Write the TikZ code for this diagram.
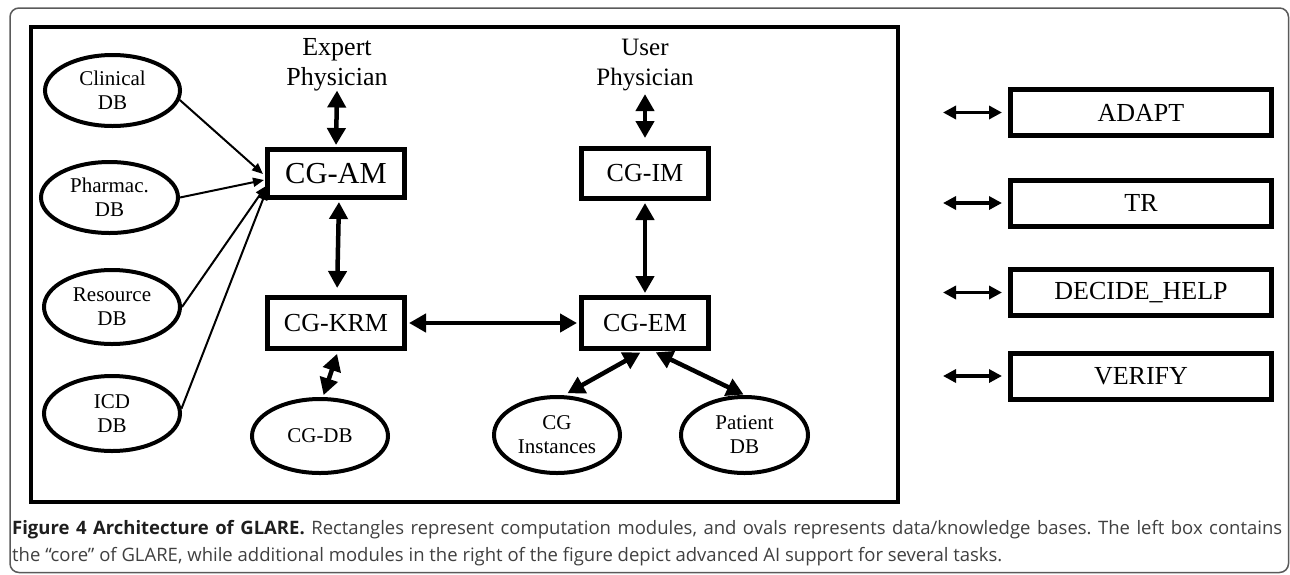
\documentclass[tikz,border=0pt]{standalone}
\usepackage{fontspec}
\setmainfont{Liberation Serif}
\newfontfamily\capfont{Open Sans}
\usetikzlibrary{shapes.geometric,arrows.meta}
\definecolor{capgray}{RGB}{64,64,64}
\definecolor{capdark}{RGB}{30,30,30}
\definecolor{framegray}{RGB}{90,90,90}
\frenchspacing
\begin{document}
\begin{tikzpicture}[x=1pt,y=-1pt,
  box/.style={draw, line width=5pt, rectangle, inner sep=0pt, font=\fontsize{26}{30}\selectfont},
  db/.style={draw, ellipse, line width=4pt, inner sep=0pt, align=center, font=\fontsize{21}{24}\selectfont},
  big/.style={line width=4.5pt, {Triangle[width=18pt,length=17pt]}-{Triangle[width=18pt,length=17pt]}},
  mid/.style={line width=3.5pt, {Triangle[width=13pt,length=13pt]}-{Triangle[width=13pt,length=13pt]}},
  thinarr/.style={line width=2pt, -{Triangle[width=9pt,length=11pt]}},
  person/.style={align=center, inner sep=0pt, font=\fontsize{26}{30}\selectfont},
  captext/.style={anchor=base west, inner sep=0pt, font=\capfont\fontsize{18.5}{22}\selectfont, text=capgray},
  ]
\useasboundingbox (0,0) rectangle (1290,574);
% outer frame
\draw[framegray, line width=1.5pt, rounded corners=9pt] (10,8) rectangle (1288.5,572.5);
% core box
\draw[line width=4pt] (31,27) rectangle (898,502);

% data bases
\node[db, minimum width=135pt, minimum height=71pt] (clin) at (112.5,90.5) {Clinical\\DB};
\node[db, minimum width=137pt, minimum height=71pt] (pharm) at (109.5,197.5) {Pharmac.\\DB};
\node[db, minimum width=136pt, minimum height=74pt] (res) at (112,307) {Resource\\DB};
\node[db, minimum width=136pt, minimum height=75pt] (icd) at (112,413.5) {ICD\\DB};
\node[db, minimum width=136pt, minimum height=74pt] (cgdb) at (320,436) {CG-DB};
\node[db, minimum width=126pt, minimum height=76pt] (cgi) at (557,435) {CG\\Instances};
\node[db, minimum width=127pt, minimum height=76pt] (pat) at (744.5,435) {Patient\\DB};

% modules
\node[box, minimum width=137pt, minimum height=48pt, font=\fontsize{30.5}{34}\selectfont] (cgam) at (336,173.5) {CG-AM};
\node[box, minimum width=137pt, minimum height=51pt] (krm) at (336,323) {CG-KRM};
\node[box, minimum width=127pt, minimum height=50pt] (cgim) at (645,173.5) {CG-IM};
\node[box, minimum width=127pt, minimum height=51pt] (cgem) at (645,323) {CG-EM};

% persons
\node[person] (expert) at (337,65) {Expert\\Physician};
\node[person, font=\fontsize{25}{30}\selectfont] (user) at (645,65) {User\\Physician};

% right modules
\node[box, minimum width=261pt, minimum height=46pt] (adapt) at (1141,112.5) {ADAPT};
\node[box, minimum width=261pt, minimum height=46pt] (tr) at (1141,203) {TR};
\node[box, minimum width=261pt, minimum height=46pt] (dh) at (1141,292.5) {DECIDE\_HELP};
\node[box, minimum width=261pt, minimum height=46pt] (ver) at (1141,376) {VERIFY};

% free ends of the side arrows
\coordinate (a1) at (943,112.5);
\coordinate (a2) at (943,203);
\coordinate (a3) at (943,292.5);
\coordinate (a4) at (943,376);
\draw[mid, shorten >=6pt] (a1) -- (adapt.west);
\draw[mid, shorten >=6pt] (a2) -- (tr.west);
\draw[mid, shorten >=6pt] (a3) -- (dh.west);
\draw[mid, shorten >=6pt] (a4) -- (ver.west);

% targets of the DB arrows
\coordinate (t1) at (263,174);
\coordinate (t2) at (264,180);
\coordinate (t3) at (266,186);
\coordinate (t4) at (267,189);
\draw[thinarr] (clin.-8) -- (t1);
\draw[thinarr] (pharm.east) -- (t2);
\draw[thinarr] (res.east) -- (t3);
\draw[thinarr] (icd.4) -- (t4);

% core arrows
\draw[big, shorten <=-1pt, shorten >=2pt] (expert.south) -- (cgam.north);
\draw[big, shorten <=3pt, shorten >=8pt] (user.south) -- (cgim.north);
\draw[big, shorten <=2pt, shorten >=7pt] ([xshift=3pt]cgam.south) -- ([xshift=1pt]krm.north);
\draw[big, shorten <=2pt, shorten >=2pt] (cgim.south) -- (cgem.north);
\draw[big, shorten <=2pt, shorten >=2pt] (krm.east) -- (cgem.west);
\draw[big, shorten <=3pt, shorten >=2pt] ([xshift=2pt]krm.south) -- ([xshift=3pt]cgdb.north);
\draw[big, shorten <=3pt, shorten >=4pt] ([xshift=-2pt]cgem.south) -- (cgi.80);
\draw[big, shorten <=3pt, shorten >=1pt] ([xshift=8pt]cgem.south) -- (pat.north);

% caption
\node[captext] (cap1) at (12,534) {\makebox[1270pt][s]{{\bfseries\color{capdark}Figure 4 Architecture of GLARE.} Rectangles represent computation modules, and ovals represents data/knowledge bases. The left box contains}};
\node[captext] (cap2) at (12,561) {the “core” of GLARE, while additional modules in the right of the figure depict advanced AI support for several tasks.};
\end{tikzpicture}
\end{document}
